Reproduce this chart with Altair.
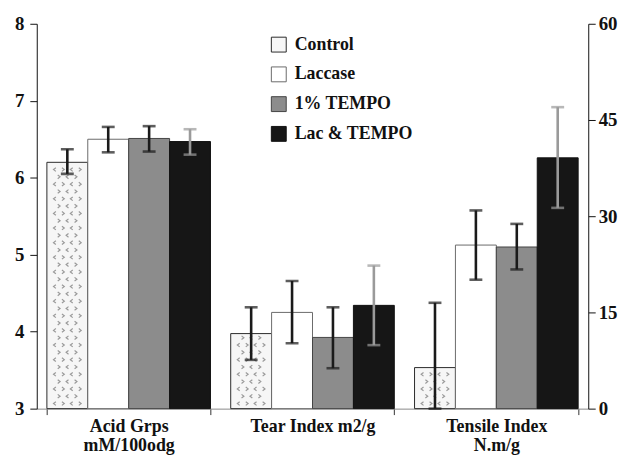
import altair as alt
import pandas as pd

categories = ["Acid Grps", "Tear Index m2/g", "Tensile Index"]
label_lines = [["Acid Grps", "\u00a0", "mM/100odg"], ["Tear Index m2/g"], ["Tensile Index", "N.m/g"]]
series = ["Control", "Laccase", "1% TEMPO", "Lac & TEMPO"]

# Acid groups (left axis, 3-8)
acid = [6.20, 6.50, 6.51, 6.47]
acid_lo = [6.05, 6.33, 6.34, 6.30]
acid_hi = [6.37, 6.66, 6.67, 6.63]
# Tear index (right axis, 0-60)
tear = [11.7, 15.0, 11.1, 16.1]
tear_lo = [7.6, 10.2, 6.3, 9.9]
tear_hi = [15.8, 19.9, 15.8, 22.3]
# Tensile index (right axis, 0-60)
tensile = [6.4, 25.5, 25.2, 39.1]
tensile_lo = [0.0, 20.1, 21.7, 31.3]
tensile_hi = [16.5, 30.9, 28.8, 47.0]

fills = ["#f6f6f6", "#ffffff", "#8c8c8c", "#161616"]
strokes = ["#2a2a2a", "#6a6a6a", "#444444", "#111111"]
err_cols = ["#1a1a1a", "#1a1a1a", "#1a1a1a", "#9a9a9a"]

FONT = "Liberation Serif"


def frame(cat, vals, los, his):
    return pd.DataFrame({
        "grp": cat, "ser": series, "v": vals, "lo": los, "hi": his,
        "ecol": err_cols,
    })


left_df = frame(categories[0], acid, acid_lo, acid_hi)
right_df = pd.concat([
    frame(categories[1], tear, tear_lo, tear_hi),
    frame(categories[2], tensile, tensile_lo, tensile_hi),
], ignore_index=True)


# decorative chevron fill pattern for the Control bars (one symbol per row)
def chevrons(xs, dirs):
    parts = []
    for cx, d in zip(xs, dirs):
        w = 0.07 * d
        parts.append(f"M{cx + w:.3f},-0.11L{cx - w:.3f},0L{cx + w:.3f},0.11")
    return "".join(parts)


row_a = chevrons([-0.75, -0.25, 0.25, 0.75], [1, -1, 1, -1])
row_b = chevrons([-0.5, 0.0, 0.5], [-1, 1, -1])


def pattern_rows(df, base, step):
    out = []
    for rec in df[df["ser"] == "Control"].to_dict("records"):
        y = base + step * 0.7
        k = 0
        while y < rec["v"] - step * 0.5:
            out.append({"grp": rec["grp"], "ser": rec["ser"], "py": y,
                        "row": "a" if k % 2 == 0 else "b"})
            y += step
            k += 1
    return pd.DataFrame(out)


left_pat = pattern_rows(left_df, 3.0, 0.095)
right_pat = pattern_rows(right_df, 0.0, 1.14)


def js_list(lines):
    return "[" + ", ".join("'" + s + "'" for s in lines) + "]"


label_expr = " : ".join(
    f"datum.value == '{c}' ? {js_list(lines)}"
    for c, lines in zip(categories, label_lines) if len(lines) > 1
) + " : datum.value"

x_enc = alt.X(
    "grp:N",
    scale=alt.Scale(domain=categories, paddingInner=0.11, paddingOuter=0.055),
    axis=alt.Axis(
        title=None, labelAngle=0, tickBand="extent", tickSize=6,
        domainColor="#888888", tickColor="#333333", labelFont=FONT,
        labelFontSize=18, labelFontWeight="bold", labelColor="#111111",
        labelPadding=3, labelLineHeight=19, labelExpr=label_expr,
    ),
)
xo_enc = alt.XOffset("ser:N", scale=alt.Scale(domain=series, paddingInner=0, paddingOuter=0))

fill_enc = alt.Fill(
    "ser:N", scale=alt.Scale(domain=series, range=fills),
    legend=alt.Legend(
        orient="none", legendX=235, legendY=12, title=None, symbolType="square",
        symbolSize=225, labelFont=FONT, labelFontSize=18, labelFontWeight="bold",
        labelColor="#111111", rowPadding=10, symbolStrokeWidth=1, labelOffset=7,
    ),
)
stroke_enc = alt.Stroke("ser:N", scale=alt.Scale(domain=series, range=strokes))
shape_enc = alt.Shape("row:N", scale=alt.Scale(domain=["a", "b"], range=[row_a, row_b]), legend=None)

axis_style = dict(title=None, grid=False, tickSize=7, domainColor="#111111",
                  tickColor="#111111", labelFont=FONT, labelFontSize=19,
                  labelFontWeight="bold", labelColor="#111111")


def side(df, pat, domain, ticks, orient, base, pad):
    y_axis = alt.Axis(values=ticks, orient=orient, labelPadding=pad, **axis_style)
    y_scale = alt.Scale(domain=domain, nice=False, zero=False)
    bars = alt.Chart(df).mark_bar(strokeWidth=1).encode(
        x=x_enc, xOffset=xo_enc,
        y=alt.Y("v:Q", scale=y_scale, axis=y_axis),
        y2=alt.datum(base), fill=fill_enc, stroke=stroke_enc,
    )
    patt = alt.Chart(pat).mark_point(
        filled=False, strokeWidth=1.2, color="#9a9a9a", opacity=1, size=1156,
    ).encode(
        x=x_enc, xOffset=xo_enc,
        y=alt.Y("py:Q", scale=y_scale, axis=y_axis), shape=shape_enc,
    )
    rules = alt.Chart(df).mark_rule(strokeWidth=2.6).encode(
        x=x_enc, xOffset=xo_enc,
        y=alt.Y("lo:Q", scale=y_scale, axis=y_axis), y2="hi:Q",
        color=alt.Color("ecol:N", scale=None),
    )
    caps_lo = alt.Chart(df).mark_tick(thickness=2.6, size=13).encode(
        x=x_enc, xOffset=xo_enc,
        y=alt.Y("lo:Q", scale=y_scale, axis=y_axis),
        color=alt.Color("ecol:N", scale=None),
    )
    caps_hi = alt.Chart(df).mark_tick(thickness=2.6, size=13).encode(
        x=x_enc, xOffset=xo_enc,
        y=alt.Y("hi:Q", scale=y_scale, axis=y_axis),
        color=alt.Color("ecol:N", scale=None),
    )
    return alt.layer(bars, patt, rules, caps_lo, caps_hi)


left = side(left_df, left_pat, [3, 8], [3, 4, 5, 6, 7, 8], "left", 3, 6)
right = side(right_df, right_pat, [0, 60], [0, 15, 30, 45, 60], "right", 0, 3)

chart = alt.layer(left, right).resolve_scale(y="independent").properties(
    width=556, height=388, background="white",
    padding={"left": 6, "right": 2, "top": 5, "bottom": 0},
).configure_view(stroke=None)

chart.save("out.html", embed_options={"renderer": "svg", "actions": False})
